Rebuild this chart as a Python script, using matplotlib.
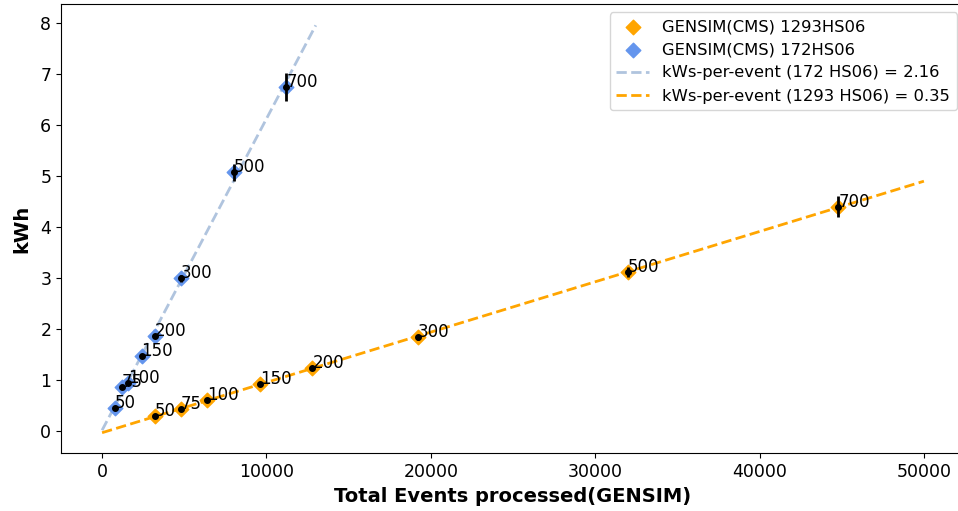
import matplotlib
import matplotlib.pyplot as plt
import numpy as np

matplotlib.use('Agg')

# Jobs (labels) and events processed
jobs = [50, 75, 100, 150, 200, 300, 500, 700]

events_1293 = [3200, 4800, 6400, 9600, 12800, 19200, 32000, 44800]
kwh_1293 = [0.29, 0.43, 0.60, 0.92, 1.23, 1.84, 3.11, 4.40]
err_1293 = [0.02, 0.02, 0.03, 0.03, 0.04, 0.05, 0.10, 0.20]

events_172 = [800, 1200, 1600, 2400, 3200, 4800, 8000, 11200]
kwh_172 = [0.45, 0.86, 0.94, 1.47, 1.86, 2.99, 5.07, 6.75]
err_172 = [0.02, 0.02, 0.03, 0.04, 0.04, 0.06, 0.17, 0.28]

label_fit_172 = 'kWs-per-event (172 HS06) = 2.16'
label_fit_1293 = 'kWs-per-event (1293 HS06) = 0.35'

fig = plt.figure(figsize=(9.58, 5.11), dpi=100)
ax = fig.add_axes([61 / 958, 1 - 453.3 / 511, 904 / 958, 449 / 511])

ax.scatter(events_1293, kwh_1293, marker='D', s=55, color='orange',
           label='GENSIM(CMS) 1293HS06', zorder=2)
ax.scatter(events_172, kwh_172, marker='D', s=55, color='cornflowerblue',
           label='GENSIM(CMS) 172HS06', zorder=2)

ax.errorbar(events_1293, kwh_1293, yerr=err_1293, fmt='.', color='black',
            markersize=8, elinewidth=2, zorder=3)
ax.errorbar(events_172, kwh_172, yerr=err_172, fmt='.', color='black',
            markersize=8, elinewidth=2, zorder=3)

# Ajuste linear
p172 = np.polyfit(events_172, kwh_172, 1)
p1293 = np.polyfit(events_1293, kwh_1293, 1)
x172 = np.linspace(0, 13000, 50)
x1293 = np.linspace(0, 50000, 50)
ax.plot(x172, np.polyval(p172, x172), '--', color='lightsteelblue',
        linewidth=2, label=label_fit_172, zorder=1)
ax.plot(x1293, np.polyval(p1293, x1293), '--', color='orange',
        linewidth=2, label=label_fit_1293, zorder=1)

for j, xv, yv in zip(jobs, events_1293, kwh_1293):
    ax.annotate(str(j), (xv, yv), fontsize=12)
for j, xv, yv in zip(jobs, events_172, kwh_172):
    ax.annotate(str(j), (xv, yv), fontsize=12)

ax.set_xlim(-2500, 52500)
ax.set_ylim(-0.44, 8.37)
ax.spines['right'].set_visible(False)
ax.tick_params(labelsize=12.5)
ax.set_xlabel('Total Events processed(GENSIM)', fontsize=14, fontweight='bold')
ax.set_ylabel('kWh', fontsize=14, fontweight='bold', labelpad=6)
ax.legend(loc='upper right', fontsize=11.8)

fig.savefig('out.png', dpi=100)
